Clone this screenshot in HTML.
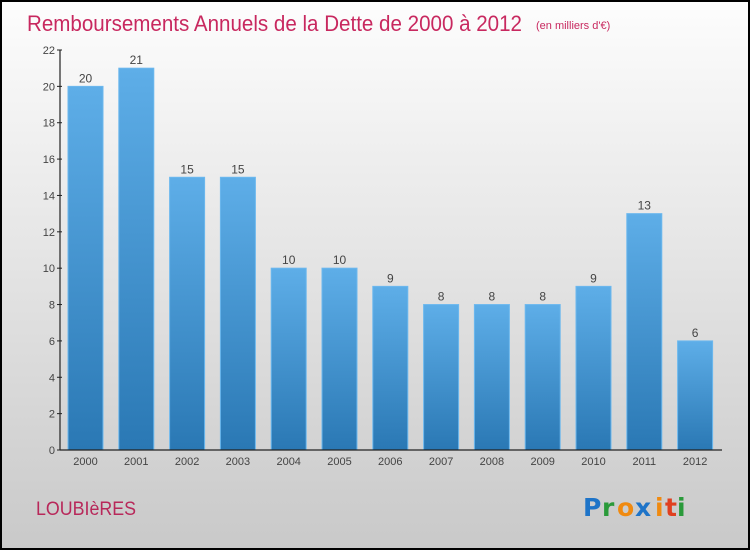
<!DOCTYPE html>
<html><head><meta charset="utf-8"><style>
body{margin:0;width:750px;height:550px;overflow:hidden;font-family:"Liberation Sans",sans-serif}
</style></head><body>
<svg width="750" height="550" xmlns="http://www.w3.org/2000/svg">
<defs>
<linearGradient id="bg" x1="0" y1="0" x2="0" y2="1"><stop offset="0" stop-color="#fdfdfd"/><stop offset="1" stop-color="#c9c9c9"/></linearGradient>
<linearGradient id="bar" x1="0" y1="0" x2="0" y2="1"><stop offset="0" stop-color="#5eaee8"/><stop offset="1" stop-color="#2a78b4"/></linearGradient>
</defs>
<rect x="1" y="1" width="748" height="548" fill="url(#bg)" stroke="#000" stroke-width="2"/>
<text x="27" y="31" font-size="22" fill="#c8285f" textLength="495" lengthAdjust="spacingAndGlyphs">Remboursements Annuels de la Dette de 2000 à 2012</text>
<text x="536" y="29" font-size="11" fill="#c8285f">(en milliers d'€)</text>
<text x="36" y="515" font-size="19" fill="#b8285a" textLength="100" lengthAdjust="spacingAndGlyphs">LOUBIèRES</text>
<g font-size="25" font-family="'DejaVu Sans',sans-serif" font-weight="bold">
<text x="583" y="516" fill="#1e74c8">P</text><text x="602" y="516" fill="#2a9a3a">r</text><text x="617" y="516" fill="#f08a10">o</text><text x="635" y="516" fill="#1e74c8">x</text><text x="655" y="516" fill="#f08a10">i</text><text x="665" y="516" fill="#e04020">t</text><text x="677" y="516" fill="#2a9a3a">i</text>
</g>
<g id="yaxis"></g>
<g id="bars"></g>
<g id="xaxis"></g>
</svg>
<script>
const categories=["2000","2001","2002","2003","2004","2005","2006","2007","2008","2009","2010","2011","2012"];
const values=[20,21,15,15,10,10,9,8,8,8,9,13,6];
const yTicks=[0,2,4,6,8,10,12,14,16,18,20,22];
const NS="http://www.w3.org/2000/svg";
const y0=450,yTop=50,yMax=22,x0=85.5,step=50.8,bw=35;
const Y=v=>y0-(v/yMax)*(y0-yTop);
const X=i=>x0+i*step;
function mk(t,a,p){const e=document.createElementNS(NS,t);for(const k in a)e.setAttribute(k,a[k]);p.appendChild(e);return e;}
const ya=document.getElementById('yaxis'),bg=document.getElementById('bars'),xa=document.getElementById('xaxis');
let l=mk('line',{x1:60,y1:yTop,x2:60,y2:y0,stroke:'#222','stroke-width':1.2},ya);


yTicks.forEach(t=>{
 const tk=mk('line',{x1:57,x2:62,y1:Y(t),y2:Y(t),stroke:'#222'},ya);
 
 
 const tx=mk('text',{x:55,y:Y(t)+4,'text-anchor':'end','font-size':11,fill:'#444'},ya);
 tx.textContent=t;
 
 
});
let xl=mk('line',{x1:60,y1:y0,x2:722,y2:y0,stroke:'#222','stroke-width':1.2},xa);


categories.forEach((c,i)=>{
 const v=values[i];
 const r=mk('rect',{x:X(i)-bw/2,y:Y(v),width:bw,height:y0-Y(v),fill:'url(#bar)',stroke:'#6cb8ee','stroke-width':1},bg);
 
 
 const vt=mk('text',{x:X(i),y:Y(v)-4,'text-anchor':'middle','font-size':12,fill:'#444'},bg);
 vt.textContent=v;
 
 
 const xt=mk('text',{x:X(i),y:465,'text-anchor':'middle','font-size':11,fill:'#444'},xa);
 xt.textContent=c;
 
 
});
</script>
</body></html>
